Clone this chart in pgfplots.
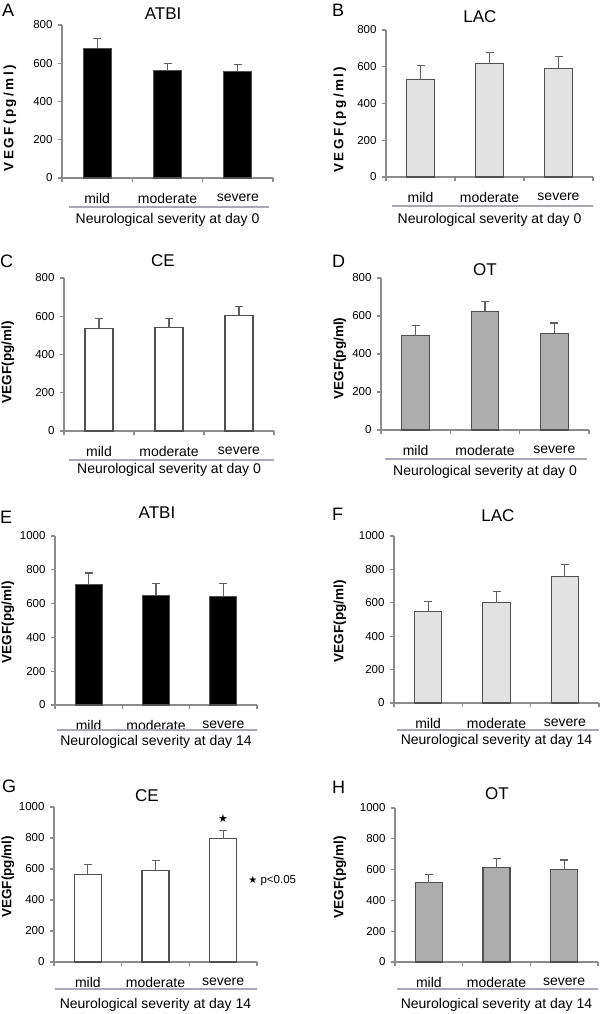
\documentclass[border=0pt]{standalone}
\usepackage{pgfplots}
\pgfplotsset{compat=1.18}
\usepackage{pgfplotstable}
\usepackage{fontspec}
\setmainfont{Liberation Sans}
\newfontfamily\symfont{DejaVu Sans}
\definecolor{axisgray}{HTML}{8C8C8C}
\definecolor{edgegray}{HTML}{505050}
\definecolor{errgray}{HTML}{606060}
\definecolor{sepgray}{HTML}{A8A8B4}
\definecolor{lightbar}{HTML}{E2E2E2}
\definecolor{midbar}{HTML}{ADADAD}

\pgfplotstableread{
x y e
0.5 678 51
1.5 561 39
2.5 556 38
}\dataA
\pgfplotstableread{
x y e
0.5 532 74
1.5 619 57
2.5 592 63
}\dataB
\pgfplotstableread{
x y e
0.5 536 54
1.5 541 49
2.5 606 44
}\dataC
\pgfplotstableread{
x y e
0.5 496 54
1.5 622 55
2.5 508 55
}\dataD
\pgfplotstableread{
x y e
0.5 713 68
1.5 648 72
2.5 640 80
}\dataE
\pgfplotstableread{
x y e
0.5 547 63
1.5 600 70
2.5 757 72
}\dataF
\pgfplotstableread{
x y e
0.5 567 60
1.5 593 60
2.5 795 54
}\dataG
\pgfplotstableread{
x y e
0.5 514 56
1.5 611 59
2.5 600 63
}\dataH

\pgfplotsset{
  panel/.style={
    scale only axis, anchor=south west, clip=false,
    xmin=0, xmax=3, ymin=0,
    axis lines*=left,
    axis line style={draw=axisgray, line width=1.3pt},
    tick align=outside, major tick length=4pt,
    tick style={draw=axisgray, line width=1.2pt},
    xtick={0.5,1.5,2.5}, xticklabels={mild,moderate,severe},
    xtick style={draw=none},
    minor xtick={0,1,2,3}, minor tick length=4pt,
    minor x tick style={draw=axisgray, line width=1.2pt},
    xticklabel style={font=\fontsize{14}{14}\selectfont, yshift=-8pt},
    yticklabel style={font=\fontsize{11.5}{12}\selectfont, xshift=-2pt},
    /pgf/number format/assume math mode=true,
    /pgf/number format/1000 sep={},
    ylabel={VEGF(pg/ml)},
    ylabel style={font=\bfseries\fontsize{13.5}{14}\selectfont, anchor=center},
    xlabel style={font=\fontsize{14}{14}\selectfont, at={(0.5,0)}, anchor=center},
    title style={font=\fontsize{17}{17}\selectfont, anchor=base},
  },
  bars/.style={ybar, bar width=0.4, draw=edgegray, line width=1.1pt,
    error bars/y dir=plus, error bars/y explicit,
    error bars/error bar style={draw=errgray, line width=1.2pt},
    error bars/error mark options={rotate=90, mark size=4pt, draw=errgray, line width=1.2pt}},
}

\begin{document}
\begin{tikzpicture}
\path[use as bounding box] (0pt,0pt) rectangle (600pt,-1014pt);

% A
\begin{axis}[panel, at={(62pt,-178pt)}, width=211pt, height=153pt, ymax=800, ytick={0,200,400,600,800},
  title={ATBI}, title style={at={(0.479,1)}, yshift=0pt},
  ylabel style={at={(0,0.39)}, yshift=52pt, font=\bfseries\fontsize{13.5}{14}\selectfont\addfontfeatures{LetterSpace=18}},
  xlabel={Neurological severity at day 0}, xlabel style={yshift=-42pt}]
\addplot[bars, fill=black] table[x=x, y=y, y error=e]{\dataA};
\draw[sepgray, line width=1.3pt] ([yshift=-29pt]rel axis cs:0.033,0) -- ([yshift=-29pt]rel axis cs:0.98,0);
\end{axis}

% B
\begin{axis}[panel, at={(386pt,-177pt)}, width=207pt, height=147pt, ymax=800, ytick={0,200,400,600,800},
  title={LAC}, title style={at={(0.454,1)}, yshift=2pt},
  ylabel style={at={(0,0.39)}, yshift=46pt, font=\bfseries\fontsize{13.5}{14}\selectfont\addfontfeatures{LetterSpace=18}},
  xlabel={Neurological severity at day 0}, xlabel style={yshift=-43pt}]
\addplot[bars, fill=lightbar] table[x=x, y=y, y error=e]{\dataB};
\draw[sepgray, line width=1.3pt] ([yshift=-29pt]rel axis cs:0.03,0) -- ([yshift=-29pt]rel axis cs:1.0,0);
\end{axis}

% C
\begin{axis}[panel, at={(64pt,-431pt)}, width=210pt, height=153pt, ymax=800, ytick={0,200,400,600,800},
  title={CE}, title style={at={(0.471,1)}, yshift=6pt},
  ylabel style={at={(0,0.45)}, yshift=56pt},
  xlabel={Neurological severity at day 0}, xlabel style={yshift=-39pt}]
\addplot[bars, fill=white] table[x=x, y=y, y error=e]{\dataC};
\draw[sepgray, line width=1.3pt] ([yshift=-29pt]rel axis cs:0.024,0) -- ([yshift=-29pt]rel axis cs:1.0,0);
\end{axis}

% D
\begin{axis}[panel, at={(381pt,-430pt)}, width=208pt, height=152pt, ymax=800, ytick={0,200,400,600,800},
  title={OT}, title style={at={(0.5,1)}, yshift=-3pt},
  ylabel style={at={(0,0.47)}, yshift=41pt},
  xlabel={Neurological severity at day 0}, xlabel style={yshift=-42pt}]
\addplot[bars, fill=midbar] table[x=x, y=y, y error=e]{\dataD};
\draw[sepgray, line width=1.3pt] ([yshift=-29pt]rel axis cs:0.02,0) -- ([yshift=-29pt]rel axis cs:0.99,0);
\end{axis}

% E
\begin{axis}[panel, at={(55pt,-705pt)}, width=202pt, height=169pt, ymax=1000, ytick={0,200,400,600,800,1000},
  title={ATBI}, title style={at={(0.505,1)}, yshift=12pt},
  ylabel style={at={(0,0.49)}, yshift=47pt},
  xlabel={Neurological severity at day 14}, xlabel style={yshift=-37pt}]
\addplot[bars, fill=black] table[x=x, y=y, y error=e]{\dataE};
\draw[sepgray, line width=1.3pt] ([yshift=-25pt]rel axis cs:0.01,0) -- ([yshift=-25pt]rel axis cs:1.0,0);
\end{axis}

% F
\begin{axis}[panel, at={(394pt,-703pt)}, width=205pt, height=167pt, ymax=1000, ytick={0,200,400,600,800,1000},
  title={LAC}, title style={at={(0.507,1)}, yshift=9pt},
  ylabel style={at={(0,0.49)}, yshift=54pt},
  xlabel={Neurological severity at day 14}, xlabel style={yshift=-38pt}]
\addplot[bars, fill=lightbar] table[x=x, y=y, y error=e]{\dataF};
\draw[sepgray, line width=1.3pt] ([yshift=-27pt]rel axis cs:0.015,0) -- ([yshift=-27pt]rel axis cs:1.0,0);
\end{axis}

% G
\begin{axis}[panel, at={(54pt,-962pt)}, width=203pt, height=155pt, ymax=1000, ytick={0,200,400,600,800,1000},
  title={CE}, title style={at={(0.458,1)}, yshift=0pt},
  ylabel style={at={(0,0.55)}, yshift=46pt},
  xlabel={Neurological severity at day 14}, xlabel style={yshift=-43pt}]
\addplot[bars, fill=white] table[x=x, y=y, y error=e]{\dataG};
\draw[sepgray, line width=1.3pt] ([yshift=-27pt]rel axis cs:0.005,0) -- ([yshift=-27pt]rel axis cs:1.0,0);
\node[font=\symfont\fontsize{11}{11}\selectfont] at (axis cs:2.5,928) {★};
\node[anchor=west, font=\fontsize{11.5}{12}\selectfont, inner sep=0pt] at (axis cs:2.87,523) {{\symfont\fontsize{10}{10}\selectfont ★} p<0.05};
\end{axis}

% H
\begin{axis}[panel, at={(395pt,-962pt)}, width=203pt, height=154pt, ymax=1000, ytick={0,200,400,600,800,1000},
  title={OT}, title style={at={(0.502,1)}, yshift=3pt},
  ylabel style={at={(0,0.55)}, yshift=55pt},
  xlabel={Neurological severity at day 14}, xlabel style={yshift=-43pt}]
\addplot[bars, fill=midbar] table[x=x, y=y, y error=e]{\dataH};
\draw[sepgray, line width=1.3pt] ([yshift=-27pt]rel axis cs:0.01,0) -- ([yshift=-27pt]rel axis cs:1.0,0);
\end{axis}

% panel letters
\node[anchor=base west, font=\fontsize{18}{18}\selectfont, inner sep=0pt] at (2pt,-17pt) {A};
\node[anchor=base west, font=\fontsize{18}{18}\selectfont, inner sep=0pt] at (332pt,-17pt) {B};
\node[anchor=base west, font=\fontsize{18}{18}\selectfont, inner sep=0pt] at (0pt,-267pt) {C};
\node[anchor=base west, font=\fontsize{18}{18}\selectfont, inner sep=0pt] at (332pt,-267pt) {D};
\node[anchor=base west, font=\fontsize{18}{18}\selectfont, inner sep=0pt] at (0pt,-523pt) {E};
\node[anchor=base west, font=\fontsize{18}{18}\selectfont, inner sep=0pt] at (332pt,-520pt) {F};
\node[anchor=base west, font=\fontsize{18}{18}\selectfont, inner sep=0pt] at (2pt,-792pt) {G};
\node[anchor=base west, font=\fontsize{18}{18}\selectfont, inner sep=0pt] at (332pt,-793pt) {H};
\end{tikzpicture}
\end{document}
